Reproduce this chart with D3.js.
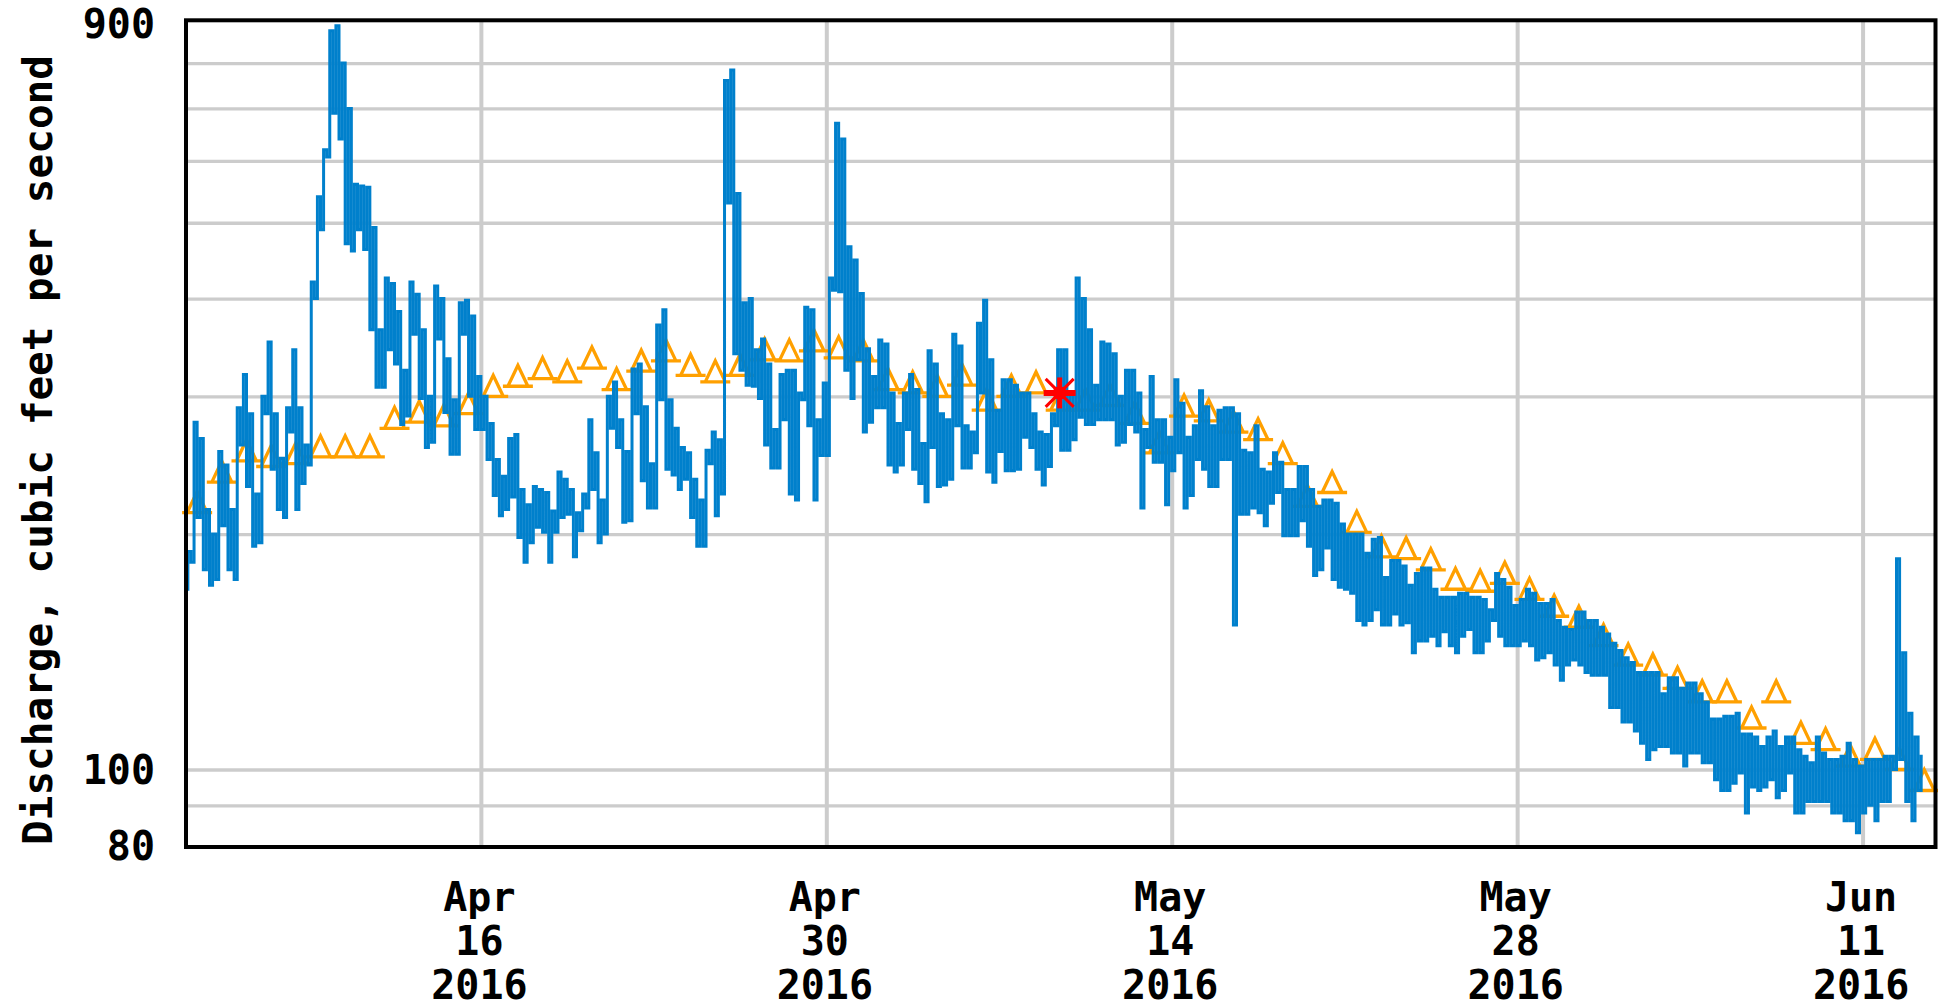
<!DOCTYPE html>
<html><head><meta charset="utf-8">
<script src="https://cdn.jsdelivr.net/npm/d3@7"></script>
<style>
html,body{margin:0;padding:0;background:#fff;}
svg{display:block;}
text{font-family:"DejaVu Sans Mono","Liberation Mono",monospace;font-weight:bold;fill:#000;}
</style></head><body>
<svg id="chart" width="1938" height="1008"></svg>
<script>
// ---------- data ----------
// discharge, cubic feet per second: lowest and highest reading in each 6-hour window
const seriesStart = "2016-04-04T00:00";
const windowHours = 6;
const dischargeLow = [
170,184,210,180,172,175,205,180,175,260,230,193,195,285,242,215,210,270,215,232,
245,400,490,607,690,640,470,460,490,462,365,308,308,344,330,276,283,360,298,258,
262,355,286,253,253,360,300,272,272,249,224,211,215,223,198,184,195,204,201,184,
201,210,212,187,202,216,228,195,200,273,258,207,208,285,234,216,216,297,242,238,
228,235,210,193,193,246,211,225,530,340,324,310,309,298,260,243,243,280,225,221,
297,275,221,252,252,410,408,324,298,334,270,278,290,290,245,240,245,272,242,232,
220,258,230,231,235,275,243,243,254,303,240,233,255,241,241,242,266,258,242,231,
244,275,256,256,264,282,276,276,280,280,280,260,262,276,270,216,258,247,247,218,
241,254,216,224,249,242,230,230,249,249,153,212,212,216,213,205,219,226,199,199,
199,208,193,177,180,192,175,171,170,168,155,153,155,160,153,153,158,153,154,141,
146,146,148,144,150,144,141,148,151,141,141,146,155,148,144,144,144,146,144,138,
139,141,136,130,136,138,136,133,132,132,132,120,120,115,115,112,108,103,106,107,
107,105,105,101,105,105,102,102,97,94,94,96,99,88,95,94,95,97,92,94,
99,88,88,91,91,91,91,88,88,86,86,83,88,90,86,91,91,100,103,91,
86,94
];
const dischargeHigh = [
190,278,265,215,200,255,245,215,290,320,285,225,300,352,285,250,290,344,290,260,
420,540,620,880,893,800,700,560,557,555,493,365,425,418,385,324,420,405,365,300,
415,400,335,297,395,398,380,318,300,277,249,237,265,268,228,218,230,228,226,214,
240,235,228,213,225,280,254,221,300,313,280,255,325,330,291,246,370,387,297,273,
258,254,235,221,256,270,264,760,784,545,395,400,344,355,330,272,320,324,324,303,
390,387,280,312,425,670,640,466,448,406,345,318,354,350,303,277,303,320,306,261,
343,330,285,280,360,348,275,270,372,398,334,288,315,315,310,303,303,285,270,268,
285,344,344,303,425,400,365,310,352,350,340,300,324,324,303,272,318,280,280,266,
315,294,266,275,305,291,275,288,290,290,285,256,254,275,242,240,254,247,228,228,
244,244,228,217,221,221,219,206,200,200,200,189,197,198,176,185,185,182,172,178,
181,181,170,166,166,166,168,168,166,166,165,160,178,175,171,162,165,170,168,163,
163,165,155,152,151,159,159,155,155,152,149,145,142,139,137,133,133,133,133,125,
131,131,127,129,129,125,122,116,116,117,117,118,111,111,110,107,110,112,107,110,
110,106,104,102,110,105,103,103,104,108,103,101,103,103,103,104,104,186,141,118,
110,104
];
const medianStart = "2016-04-04";   // median daily statistic, one value per day
const medianDaily = [
213,233,248,244,246,251,251,251,273,278,275,285,300,309,316,313,326,306,323,333,
319,313,319,334,333,343,336,
333,306,303,300,310,288,300,303,288,288,292,277,254,283,279,270,264,246,217,226,
201,187,186,180,170,169,173,165,157,152,144,
136,132,127,122,122,113,122,108,106,101,103,100,94
];
const measurementTimes = ["2016-05-09T11:00"];
const measurementValues = [303];
const xDomain = ["2016-04-04", "2016-06-14"];
const yDomain = [80, 900];
const xTickDates = ["2016-04-16","2016-04-30","2016-05-14","2016-05-28","2016-06-11"];
const yGridValues = [90,100,200,300,400,500,600,700,800];
const yLabelValues = [80,100,900];
const yTitle = "Discharge, cubic feet per second";

// ---------- layout ----------
const P = {left:186, top:20.3, right:1935.5, bottom:847};
const svg = d3.select("#chart");
const parseT = d3.timeParse("%Y-%m-%dT%H:%M");
const parseD = d3.timeParse("%Y-%m-%d");

const x = d3.scaleTime().domain(xDomain.map(parseD)).range([184.8, 1936.6]);
const y = d3.scaleLog().domain(yDomain).range([845.3, 23.1]);

// build the trace: inside each 6-hour window visit its low then its high
const t0 = parseT(seriesStart);
const flow = [];
dischargeLow.forEach((lo, i) => {
  const start = d3.timeMinute.offset(t0, i * windowHours * 60);
  flow.push({t: d3.timeMinute.offset(start, 90),  v: lo});
  flow.push({t: d3.timeMinute.offset(start, 270), v: dischargeHigh[i]});
});
const m0 = parseD(medianStart);
const med = medianDaily.map((v,i)=>({t:d3.timeHour.offset(d3.timeDay.offset(m0,i),12), v}));
const meas = measurementTimes.map((s,i)=>({t:parseT(s), v:measurementValues[i]}));

// grid: horizontal
const gy = svg.append("g").attr("transform",`translate(${P.left},0)`)
  .call(d3.axisLeft(y).tickValues(yGridValues).tickSize(-(P.right-P.left)).tickFormat(""));
gy.select(".domain").remove();
gy.selectAll("line").attr("stroke","#cccccc").attr("stroke-width",3.3);

// grid: vertical + date labels
const xTicks = xTickDates.map(parseD);
const gx = svg.append("g").attr("transform",`translate(0,${P.bottom})`)
  .call(d3.axisBottom(x).tickValues(xTicks).tickSize(-(P.bottom-P.top)).tickFormat(""));
gx.select(".domain").remove();
gx.selectAll("line").attr("stroke","#cccccc").attr("stroke-width",4);
const fmtM = d3.timeFormat("%b"), fmtD = d3.timeFormat("%d"), fmtY = d3.timeFormat("%Y");
gx.selectAll(".tick").each(function(d){
  const g = d3.select(this);
  g.selectAll("text").remove();
  const lines = [fmtM(d), fmtD(d), fmtY(d)];
  const base = [64, 108, 152];
  lines.forEach((s,k)=>{
    g.append("text").attr("x",-2).attr("y",base[k]).attr("text-anchor","middle")
      .style("font-size","40px").text(s);
  });
});

// median daily statistic markers (orange triangles)
svg.append("g").selectAll("path").data(med).join("path")
  .attr("transform",d=>`translate(${x(d.t)},${y(d.v)})`)
  .attr("d","M-15,0H15M-10,0L0,-21L10,0")
  .attr("fill","none").attr("stroke","#ffa000").attr("stroke-width",3.3);

// discharge trace
svg.append("path").datum(flow)
  .attr("d", d3.line().curve(d3.curveStep).x(d=>x(d.t)).y(d=>y(d.v)))
  .attr("fill","none").attr("stroke","#0080cc").attr("stroke-width",3);

// field measurement (red asterisk)
const star = svg.append("g").selectAll("g").data(meas).join("g")
  .attr("transform",d=>`translate(${x(d.t)},${y(d.v)})`);
star.append("path").attr("d","M-16,0H16").attr("stroke","#ff0000").attr("stroke-width",6);
star.append("path").attr("d","M0,-15.5V15.5").attr("stroke","#ff0000").attr("stroke-width",5);
star.append("path").attr("d","M-14,-14L14,14M-14,14L14,-14").attr("stroke","#ff0000").attr("stroke-width",3);
star.append("rect").attr("x",-6).attr("y",-6).attr("width",12).attr("height",12).attr("fill","#ff0000");

// frame
svg.append("rect").attr("x",P.left).attr("y",P.top)
  .attr("width",P.right-P.left).attr("height",P.bottom-P.top)
  .attr("fill","none").attr("stroke","#000").attr("stroke-width",4);

// y labels
const gl = svg.append("g").attr("transform",`translate(${P.left},0)`)
  .call(d3.axisLeft(y).tickValues(yLabelValues).tickSize(0).tickFormat(d3.format("d")));
gl.select(".domain").remove();
gl.selectAll("text").attr("x",-31).attr("dy",null).attr("y",14.5)
  .attr("text-anchor","end").style("font-size","40px")
  .style("font-family",'"DejaVu Sans Mono",monospace').style("font-weight","bold").attr("fill","#000");

// y title
svg.append("text").attr("transform","translate(52,450) rotate(-90)")
  .attr("text-anchor","middle").style("font-size","41px").text(yTitle);
</script>
</body></html>
